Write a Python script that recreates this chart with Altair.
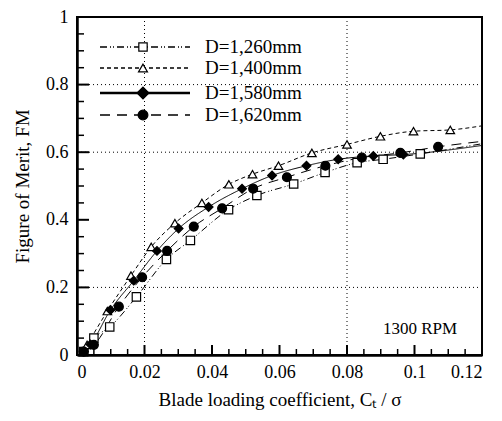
import altair as alt
import pandas as pd

# ---- data ----
series_names = ["D=1,260mm", "D=1,400mm", "D=1,580mm", "D=1,620mm"]

x_1260 = [0.002, 0.005, 0.0097, 0.0176, 0.0265, 0.0336, 0.0449, 0.0533, 0.0642, 0.0735, 0.083, 0.0907, 0.1017]
y_1260 = [0.01, 0.05, 0.083, 0.172, 0.283, 0.339, 0.43, 0.472, 0.506, 0.54, 0.569, 0.579, 0.595]
x_1400 = [0.003, 0.009, 0.016, 0.022, 0.029, 0.037, 0.045, 0.052, 0.0597, 0.0696, 0.08, 0.0899, 0.0997, 0.1106]
y_1400 = [0.03, 0.13, 0.235, 0.32, 0.39, 0.45, 0.505, 0.535, 0.56, 0.598, 0.623, 0.647, 0.662, 0.666]
x_1580 = [0.002, 0.004, 0.0099, 0.0168, 0.0237, 0.0301, 0.039, 0.0489, 0.0578, 0.068, 0.0774, 0.0878, 0.0967]
y_1580 = [0.01, 0.031, 0.133, 0.22, 0.308, 0.374, 0.438, 0.492, 0.531, 0.56, 0.579, 0.589, 0.593]
x_1620 = [0.002, 0.005, 0.0124, 0.0193, 0.0267, 0.0346, 0.043, 0.0522, 0.0622, 0.0736, 0.0844, 0.0958, 0.107]
y_1620 = [0.01, 0.03, 0.143, 0.23, 0.308, 0.38, 0.434, 0.492, 0.526, 0.56, 0.584, 0.598, 0.616]

# fitted-curve end values at the right edge (x = 0.12)
curve_end_x = 0.12
curve_end_y = [0.625, 0.678, 0.62, 0.632]

x_ticks_major = [0, 0.02, 0.04, 0.06, 0.08, 0.1, 0.12]
x_ticks_minor = [0.005, 0.01, 0.015, 0.025, 0.03, 0.035, 0.045, 0.05, 0.055, 0.065, 0.07, 0.075,
                 0.085, 0.09, 0.095, 0.105, 0.11, 0.115]
y_ticks_major = [0, 0.2, 0.4, 0.6, 0.8, 1.0]
y_ticks_minor = [0.05, 0.1, 0.15, 0.25, 0.3, 0.35, 0.45, 0.5, 0.55, 0.65, 0.7, 0.75, 0.85, 0.9, 0.95]
x_grid = [0.02, 0.08]
y_grid = [0.2, 0.6, 0.8]

annotation = "1300 RPM"

# ---- tables ----
xs = [x_1260, x_1400, x_1580, x_1620]
ys = [y_1260, y_1400, y_1580, y_1620]
pts = []
lines = []
for name, xv, yv, ye in zip(series_names, xs, ys, curve_end_y):
    for a, b in zip(xv, yv):
        pts.append({"series": name, "x": a, "y": b})
        lines.append({"series": name, "x": a, "y": b})
    lines.append({"series": name, "x": curve_end_x, "y": ye})
df_pts = pd.DataFrame(pts)
df_lines = pd.DataFrame(lines)

W, H = 405, 338
FONT = "Liberation Serif"

dash_range = [[7, 3, 1, 2, 1, 3], [4, 3], [1, 0], [10, 7]]
width_range = [1, 1, 2.2, 1.2]
shape_range = ["square", "triangle-up", "diamond", "circle"]
fill_range = ["white", "white", "black", "black"]
size_range = [70, 80, 140, 95]

xscale = alt.Scale(domain=[0, 0.12], nice=False, zero=False)
yscale = alt.Scale(domain=[0, 1], nice=False, zero=False)

common_axis = dict(ticks=False, grid=False, labelFont=FONT, labelFontSize=18, titleFont=FONT,
                   titleFontSize=19, titleFontWeight="normal", labelColor="black", titleColor="black",
                   domainColor="black", domainWidth=2.5, labelExpr="format(datum.value, '~g')")
xaxis = alt.Axis(values=x_ticks_major, title="Blade loading coefficient, Cₜ / σ",
                 labelPadding=8, titlePadding=9, **common_axis)
yaxis = alt.Axis(values=y_ticks_major, title="Figure of Merit, FM",
                 labelPadding=9, titlePadding=13, **common_axis)

grid_x = alt.Chart(pd.DataFrame({"x": x_grid})).mark_rule(
    color="black", strokeWidth=1, strokeDash=[1, 3]
).encode(x=alt.X("x:Q", scale=xscale, axis=xaxis))
grid_y = alt.Chart(pd.DataFrame({"y": y_grid})).mark_rule(
    color="black", strokeWidth=1, strokeDash=[1, 3]
).encode(y=alt.Y("y:Q", scale=yscale, axis=yaxis))

line_layer = alt.Chart(df_lines).mark_line(color="black", interpolate="monotone").encode(
    x=alt.X("x:Q", scale=xscale, axis=xaxis),
    y=alt.Y("y:Q", scale=yscale, axis=yaxis),
    detail="series:N",
    strokeDash=alt.StrokeDash("series:N", scale=alt.Scale(domain=series_names, range=dash_range), legend=None),
    strokeWidth=alt.StrokeWidth("series:N", scale=alt.Scale(domain=series_names, range=width_range), legend=None),
)

point_layer = alt.Chart(df_pts).mark_point(stroke="black", strokeWidth=1.2, opacity=1).encode(
    x=alt.X("x:Q", scale=xscale, axis=xaxis),
    y=alt.Y("y:Q", scale=yscale, axis=yaxis),
    shape=alt.Shape("series:N", scale=alt.Scale(domain=series_names, range=shape_range), legend=None),
    fill=alt.Fill("series:N", scale=alt.Scale(domain=series_names, range=fill_range), legend=None),
    size=alt.Size("series:N", scale=alt.Scale(domain=series_names, range=size_range), legend=None),
)

# inner ticks
tx_major = alt.Chart(pd.DataFrame({"x": x_ticks_major})).mark_rule(color="black", strokeWidth=2).encode(
    x=alt.X("x:Q", scale=xscale, axis=xaxis), y=alt.value(H), y2=alt.value(H - 10))
tx_minor = alt.Chart(pd.DataFrame({"x": x_ticks_minor})).mark_rule(color="black", strokeWidth=1.5).encode(
    x=alt.X("x:Q", scale=xscale, axis=xaxis), y=alt.value(H), y2=alt.value(H - 6))
ty_major = alt.Chart(pd.DataFrame({"y": y_ticks_major})).mark_rule(color="black", strokeWidth=2).encode(
    y=alt.Y("y:Q", scale=yscale, axis=yaxis), x=alt.value(0), x2=alt.value(12))
ty_minor = alt.Chart(pd.DataFrame({"y": y_ticks_minor})).mark_rule(color="black", strokeWidth=1.5).encode(
    y=alt.Y("y:Q", scale=yscale, axis=yaxis), x=alt.value(0), x2=alt.value(7))

# manual legend
legend_layers = []
row_y = [30, 51, 76, 98]
for i, name in enumerate(series_names):
    d = pd.DataFrame({"label": [name]})
    legend_layers.append(
        alt.Chart(d).mark_rule(color="black", strokeWidth=width_range[i] + 0.3, strokeDash=dash_range[i]).encode(
            x=alt.value(23), x2=alt.value(113), y=alt.value(row_y[i]))
    )
    legend_layers.append(
        alt.Chart(d).mark_point(stroke="black", strokeWidth=1.2, opacity=1, fill=fill_range[i],
                                shape=shape_range[i], size=size_range[i]).encode(
            x=alt.value(66), y=alt.value(row_y[i]))
    )
    legend_layers.append(
        alt.Chart(d).mark_text(font=FONT, fontSize=19, align="left", baseline="middle", color="black").encode(
            x=alt.value(128), y=alt.value(row_y[i]), text="label:N")
    )

ann = alt.Chart(pd.DataFrame({"t": [annotation]})).mark_text(
    font=FONT, fontSize=17, align="center", baseline="middle", color="black"
).encode(x=alt.value(343), y=alt.value(312), text="t:N")

chart = alt.layer(
    grid_x, grid_y, line_layer, point_layer, tx_major, tx_minor, ty_major, ty_minor, ann, *legend_layers
).properties(
    width=W, height=H, autosize=alt.AutoSizeParams(type="none"),
    padding={"left": 69, "top": 9, "right": 12, "bottom": 58},
    background="white",
).configure_view(
    stroke="black", strokeWidth=2
)

chart.save("out.html", embed_options={"renderer": "svg", "actions": False})
